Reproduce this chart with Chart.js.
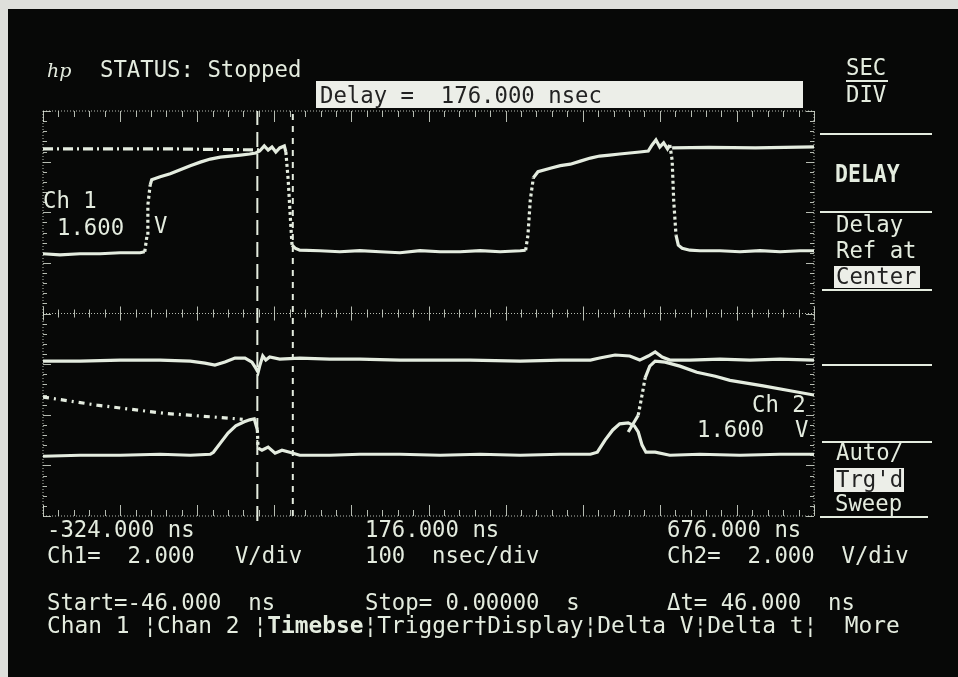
<!DOCTYPE html>
<html>
<head>
<meta charset="utf-8">
<script src="https://cdn.jsdelivr.net/npm/chart.js@4.4.1/dist/chart.umd.min.js"></script>
<style>
  html, body { margin: 0; padding: 0; background: #dedfdb; }
  #wrap { position: relative; width: 958px; height: 677px; overflow: hidden; }
  #screen { position: absolute; left: 8px; top: 9px; right: 0; bottom: 0; background: #070807; }
  #scope { position: absolute; left: 0; top: 0; }
</style>
</head>
<body>
<div id="wrap">
  <div id="screen"></div>
  <canvas id="scope" width="958" height="677"></canvas>
</div>
<script>
// time axis (ns) and screen divisions
var timeLeft = -324
var timeRight = 676
var nsPerDiv = 100
var divsUp = 4
var startNs = -46
var stopNs = 0

// traces as [ns, div]
var ch1Pulse = [[-324,1.18],[-302,1.16],[-276,1.18],[-250,1.18],[-224,1.20],[-198,1.20],[-192,1.22],[-189,1.55],[-188,2.14],[-185,2.54],[-183,2.64],
  [-172,2.70],[-159,2.76],[-146,2.84],[-133,2.92],[-120,2.99],[-107,3.05],[-94,3.09],[-81,3.11],[-68,3.13],[-56,3.15],[-48,3.17],[-43,3.21],
  [-37,3.31],[-32,3.23],[-27,3.29],[-22,3.19],[-17,3.27],[-11,3.31],[-9,3.19],[-6,2.64],[-3,1.85],[-1,1.35],[3,1.29],[9,1.25],[35,1.24],
  [61,1.22],[87,1.24],[113,1.22],[139,1.20],[165,1.24],[191,1.22],[217,1.22],[243,1.24],[269,1.22],[295,1.24],[302,1.25],[305,1.55],
  [308,2.24],[312,2.68],[318,2.80],[334,2.87],[347,2.92],[360,2.95],[373,3.01],[386,3.07],[398,3.11],[411,3.13],[424,3.15],[437,3.17],
  [450,3.19],[461,3.21],[466,3.33],[471,3.43],[476,3.29],[481,3.37],[486,3.25],[489,3.33],[492,3.03],[494,2.24],[497,1.55],[500,1.35],
  [505,1.29],[515,1.25],[528,1.24],[554,1.24],[580,1.22],[606,1.24],[632,1.22],[658,1.24],[676,1.24]]
var ch1HoldLeft = [[-324,3.25],[-250,3.25],[-150,3.25],[-40,3.23]]
var ch1HoldRight = [[492,3.27],[540,3.28],[600,3.27],[676,3.29]]

var ch2High = [[-324,-0.94],[-276,-0.94],[-224,-0.92],[-172,-0.92],[-133,-0.94],[-114,-0.98],[-101,-1.02],[-88,-0.96],[-75,-0.88],[-62,-0.88],
  [-53,-0.96],[-48,-1.08],[-45,-1.16],[-43,-1.04],[-39,-0.84],[-35,-0.92],[-30,-0.86],[-17,-0.90],[9,-0.88],[48,-0.90],[87,-0.90],[139,-0.92],
  [178,-0.92],[230,-0.92],[295,-0.94],[347,-0.92],[386,-0.92],[398,-0.88],[418,-0.82],[437,-0.84],[450,-0.92],[461,-0.84],[470,-0.76],
  [479,-0.86],[489,-0.92],[515,-0.92],[554,-0.90],[593,-0.92],[632,-0.90],[676,-0.92]]
var ch2Low = [[-324,-2.82],[-276,-2.80],[-224,-2.80],[-172,-2.78],[-133,-2.80],[-107,-2.78],[-103,-2.74],[-94,-2.56],[-84,-2.36],[-74,-2.22],
  [-63,-2.14],[-56,-2.10],[-50,-2.08],[-46,-2.30],[-45,-2.66],[-40,-2.70],[-32,-2.64],[-23,-2.76],[-14,-2.70],[-4,-2.74],[9,-2.80],[48,-2.80],
  [87,-2.78],[139,-2.78],[191,-2.80],[243,-2.78],[295,-2.80],[347,-2.78],[386,-2.78],[395,-2.74],[405,-2.50],[415,-2.30],[424,-2.18],
  [435,-2.16],[443,-2.22],[448,-2.34],[453,-2.60],[458,-2.74],[470,-2.74],[489,-2.80],[528,-2.78],[580,-2.80],[632,-2.78],[676,-2.78]]
var ch2DecayLeft = [[-324,-1.65],[-254,-1.81],[-168,-1.97],[-81,-2.07],[-65,-2.09]]
var ch2DecayRight = [[435,-2.34],[448,-2.01],[453,-1.61],[457,-1.27],[463,-1.04],[470,-0.94],[483,-0.96],[502,-1.04],[524,-1.16],
  [548,-1.24],[567,-1.32],[610,-1.43],[654,-1.55],[676,-1.61]]

var ink = '#e4ecdf'
var font = 'DejaVu Sans Mono'

function pts(arr){
  return arr.map(function(p){ return {x: p[0], y: p[1]} })
}

// fast edges come out dotted on the phosphor
function edgeDash(c){
  var dx = Math.abs(c.p1.x - c.p0.x), dy = Math.abs(c.p1.y - c.p0.y)
  return (dy > 14 && dy > 3 * dx) ? [3, 3] : undefined
}

function trace(arr, dash){
  return {
    data: pts(arr), showLine: true, pointRadius: 0, borderColor: ink, borderWidth: 3.2,
    borderDash: dash || [], segment: {borderDash: dash ? undefined : edgeDash}
  }
}

function marker(t, dash, low){
  return {
    data: [{x: t, y: low}, {x: t, y: divsUp}], showLine: true, pointRadius: 0,
    borderColor: ink, borderWidth: 2, borderDash: dash, clip: false
  }
}

var graticule = {
  id: 'graticule',
  beforeDatasetsDraw: function(chart){
    var ctx = chart.ctx, sx = chart.scales.x, sy = chart.scales.y, a = chart.chartArea
    var mid = sy.getPixelForValue(0)
    ctx.save()
    ctx.strokeStyle = 'rgba(225,232,220,0.8)'
    ctx.lineWidth = 1
    ctx.setLineDash([1, 2])
    ctx.beginPath()
    ctx.moveTo(a.left, a.top); ctx.lineTo(a.right, a.top)
    ctx.moveTo(a.left, a.bottom); ctx.lineTo(a.right, a.bottom)
    ctx.moveTo(a.left, mid); ctx.lineTo(a.right, mid)
    ctx.moveTo(a.left, a.top); ctx.lineTo(a.left, a.bottom)
    ctx.moveTo(a.right, a.top); ctx.lineTo(a.right, a.bottom)
    ctx.stroke()
    ctx.setLineDash([])
    ctx.beginPath()
    for (var t = timeLeft; t <= timeRight; t += nsPerDiv / 5){
      var px = Math.round(sx.getPixelForValue(t)) + 0.5
      var major = (t - timeLeft) % nsPerDiv === 0
      var len = major ? 11 : 6
      ctx.moveTo(px, a.top); ctx.lineTo(px, a.top + len)
      ctx.moveTo(px, a.bottom); ctx.lineTo(px, a.bottom - len)
      ctx.moveTo(px, mid - (major ? 7 : 4)); ctx.lineTo(px, mid + (major ? 7 : 4))
    }
    for (var k = -divsUp * 5; k <= divsUp * 5; k++){
      var py = Math.round(sy.getPixelForValue(k / 5)) + 0.5
      var l2 = k % 5 === 0 ? 8 : 4
      ctx.moveTo(a.left, py); ctx.lineTo(a.left + l2, py)
      ctx.moveTo(a.right, py); ctx.lineTo(a.right - l2, py)
    }
    ctx.stroke()
    ctx.restore()
  }
}

function txt(ctx, s, x, y, opt){
  opt = opt || {}
  ctx.save()
  ctx.font = (opt.bold ? 'bold ' : '') + (opt.size || 22.3) + 'px "' + font + '"'
  ctx.fillStyle = opt.color || ink
  ctx.textBaseline = 'alphabetic'
  if (opt.sy){
    ctx.translate(x, y); ctx.scale(1, opt.sy); ctx.fillText(s, 0, 0)
  } else {
    ctx.fillText(s, x, y)
  }
  ctx.restore()
}

function rule(ctx, x1, x2, y){
  ctx.fillStyle = ink
  ctx.fillRect(x1, y - 1, x2 - x1, 2)
}

var panel = {
  id: 'panel',
  afterDraw: function(chart){
    var ctx = chart.ctx
    ctx.save()
    ctx.font = 'italic 19px "DejaVu Serif"'
    ctx.fillStyle = ink
    ctx.fillText('hp', 47, 77)
    ctx.restore()
    txt(ctx, 'STATUS: Stopped', 100, 77)

    ctx.fillStyle = '#eceee8'
    ctx.fillRect(316, 81, 487, 27)
    txt(ctx, 'Delay =  176.000 nsec', 320, 103, {color: '#222'})

    txt(ctx, 'SEC', 846, 75)
    rule(ctx, 846, 888, 81)
    txt(ctx, 'DIV', 846, 102)

    rule(ctx, 820, 932, 134)
    txt(ctx, 'DELAY', 835, 182, {sy: 1.18, bold: true, size: 21.5})
    rule(ctx, 820, 932, 212)
    txt(ctx, 'Delay', 836, 232)
    txt(ctx, 'Ref at', 836, 258)
    ctx.fillStyle = '#eceee8'
    ctx.fillRect(834, 266, 86, 22)
    txt(ctx, 'Center', 836, 284, {color: '#222'})
    rule(ctx, 822, 932, 290)
    rule(ctx, 822, 932, 365)
    rule(ctx, 822, 932, 442)
    txt(ctx, 'Auto/', 836, 460)
    ctx.fillStyle = '#eceee8'
    ctx.fillRect(834, 468, 70, 24)
    txt(ctx, "Trg'd", 836, 487, {color: '#222'})
    txt(ctx, 'Sweep', 835, 511)
    rule(ctx, 820, 928, 517)

    txt(ctx, 'Ch 1', 43, 208)
    txt(ctx, '1.600', 57, 235)
    txt(ctx, 'V', 154, 233)
    txt(ctx, 'Ch 2', 752, 412)
    txt(ctx, '1.600', 697, 437)
    txt(ctx, 'V', 795, 437)

    txt(ctx, '-324.000 ns', 47, 537)
    txt(ctx, '176.000 ns', 365, 537)
    txt(ctx, '676.000 ns', 667, 537)
    txt(ctx, 'Ch1=  2.000   V/div', 47, 563)
    txt(ctx, '100  nsec/div', 365, 563)
    txt(ctx, 'Ch2=  2.000  V/div', 667, 563)
    txt(ctx, 'Start=-46.000  ns', 47, 610)
    txt(ctx, 'Stop= 0.00000  s', 365, 610)
    txt(ctx, '\u0394t= 46.000  ns', 667, 610)

    var w = 13.76
    txt(ctx, 'Chan 1 \u00a6Chan 2 \u00a6', 47, 633, {size: 22.85})
    txt(ctx, 'Timebse', 47 + 16 * w, 633, {size: 22.85, bold: true})
    txt(ctx, '\u00a6Trigger\u2020Display\u00a6Delta V\u00a6Delta t\u00a6  More', 47 + 23 * w, 633, {size: 22.85})
  }
}

new Chart(document.getElementById('scope').getContext('2d'), {
  type: 'scatter',
  data: {
    datasets: [
      trace(ch1HoldLeft, [10, 4, 2, 4]),
      trace(ch1HoldRight),
      trace(ch1Pulse),
      trace(ch2DecayLeft, [6, 5, 2, 5]),
      trace(ch2High),
      trace(ch2Low),
      trace(ch2DecayRight),
      marker(startNs, [15, 7], -divsUp - 0.1),
      marker(stopNs, [6, 6], -divsUp)
    ]
  },
  options: {
    responsive: false,
    animation: false,
    layout: {padding: {left: 43, top: 111, right: 144, bottom: 161}},
    scales: {
      x: {type: 'linear', min: timeLeft, max: timeRight, display: false},
      y: {type: 'linear', min: -divsUp, max: divsUp, display: false}
    },
    plugins: {legend: {display: false}, tooltip: {enabled: false}}
  },
  plugins: [graticule, panel]
})
</script>
</body>
</html>
